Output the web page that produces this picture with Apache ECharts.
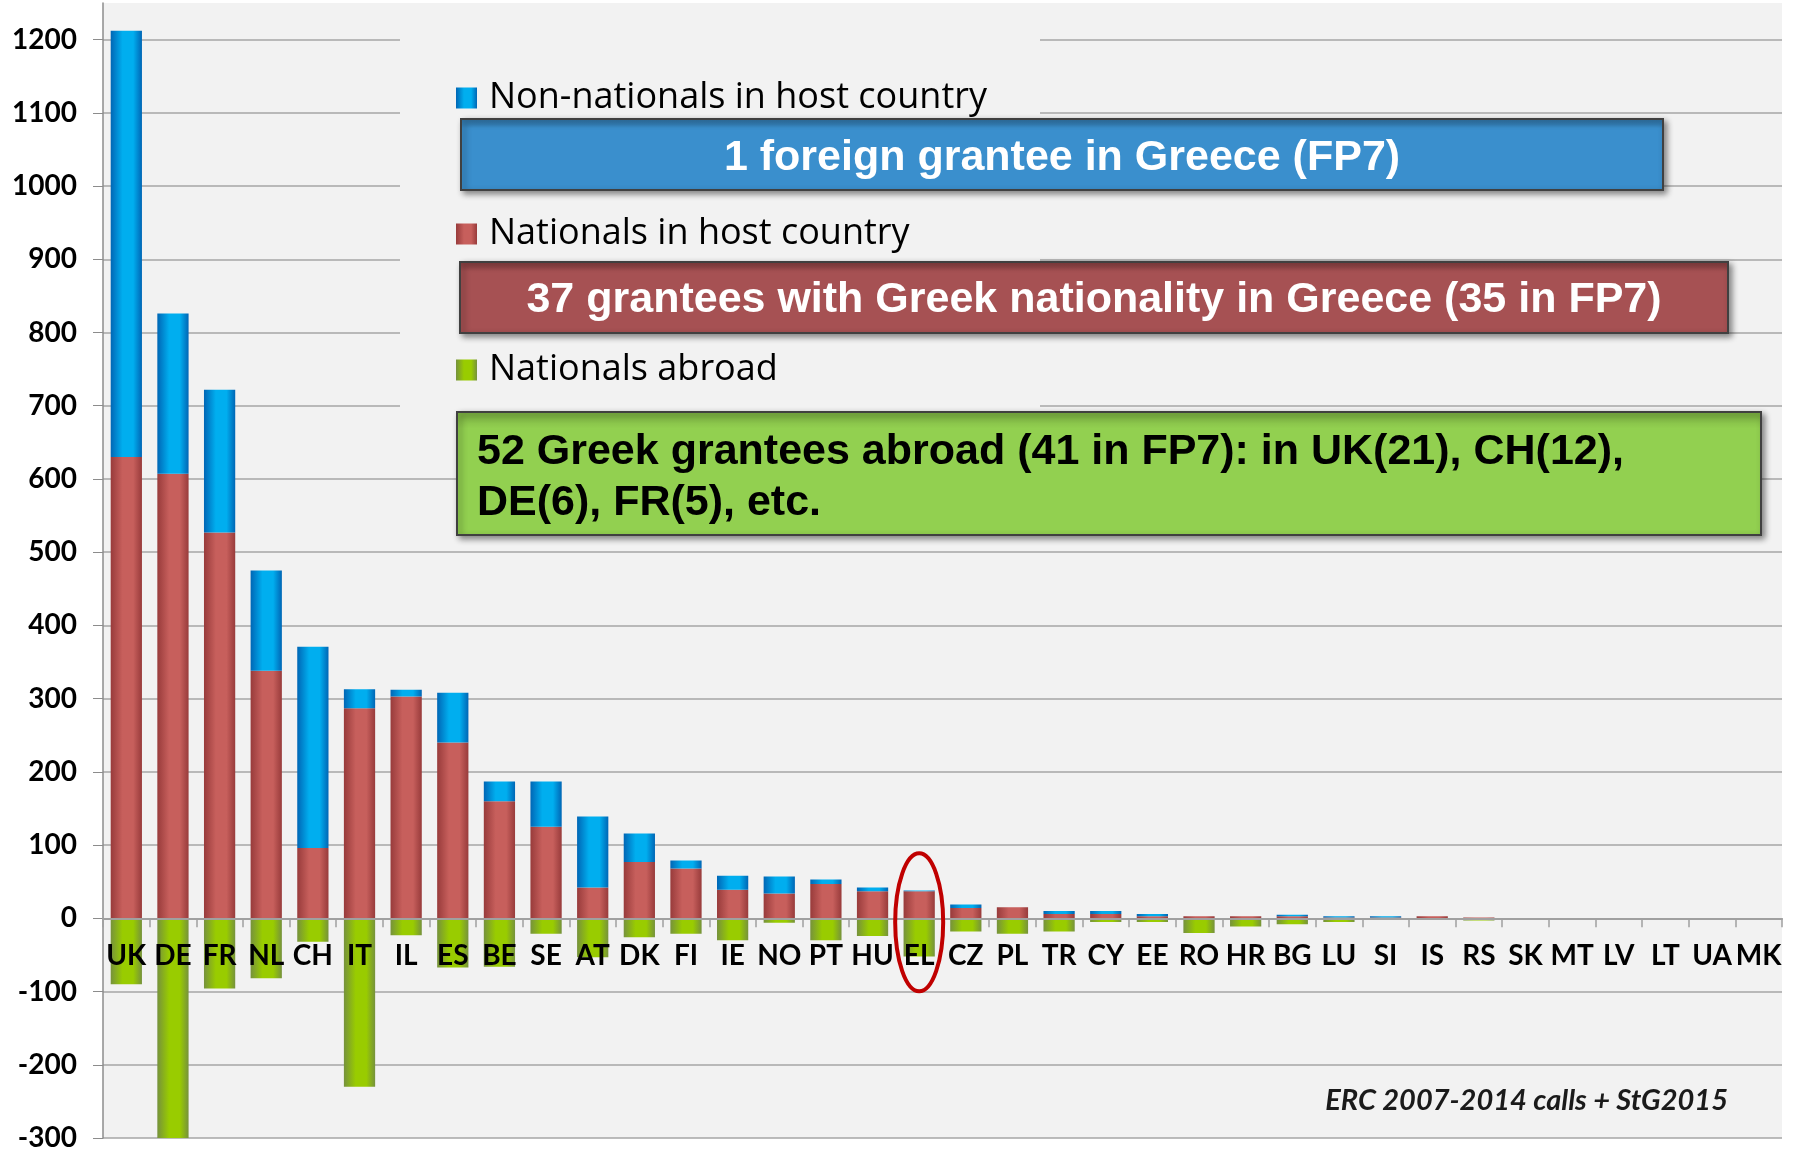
<!DOCTYPE html>
<html>
<head>
<meta charset="utf-8">
<script src="https://cdn.jsdelivr.net/npm/echarts@6/dist/echarts.min.js"></script>
<style>
html,body{margin:0;padding:0;background:#ffffff;}
#chart{width:1797px;height:1149px;}
</style>
</head>
<body>
<div id="chart"></div>
<script>
const categories = ['UK','DE','FR','NL','CH','IT','IL','ES','BE','SE','AT','DK','FI','IE','NO','PT','HU','EL','CZ','PL','TR','CY','EE','RO','HR','BG','LU','SI','IS','RS','SK','MT','LV','LT','UA','MK'];
const nationalsHost = [630,607,527,338,96,287,303,240,160,125,42,77,68,39,34,47,37,37,14,15,6,6,3,3,3,3,1,1,3,1,0,0,0,0,0,0];
const nonNationals = [582,219,195,137,275,26,9,68,27,62,97,39,11,19,23,6,5,1,5,0,4,4,3,0,0,2,2,2,0,0,0,0,0,0,0,0];
const nationalsAbroad = [-90,-300,-96,-82,-32,-230,-23,-67,-66,-21,-53,-26,-21,-30,-6,-30,-24,-52,-18,-21,-18,-5,-5,-20,-11,-8,-5,-2,-2,-3,-2,-2,0,-2,-2,-2];
const yTicks = {min:-300, max:1250, interval:100};
const legendNames = ['Non-nationals in host country','Nationals in host country','Nationals abroad'];
const boxTexts = [
  '1 foreign grantee in Greece (FP7)',
  '37 grantees with Greek nationality in Greece (35 in FP7)',
  '52 Greek grantees abroad (41 in FP7): in UK(21), CH(12),\nDE(6), FR(5), etc.'
];
const footnote = 'ERC 2007-2014 calls + StG2015';

function grad(dark, light){
  return {type:'linear',x:0,y:0,x2:1,y2:0,colorStops:[
    {offset:0,color:dark},{offset:0.38,color:light},{offset:0.72,color:light},{offset:1,color:dark}]};
}
function vgrad(top, base){
  return {type:'linear',x:0,y:0,x2:0,y2:1,colorStops:[
    {offset:0,color:top},{offset:0.14,color:base},{offset:1,color:base}]};
}
const gridColors = [];
for (let i=0;i<16;i++) gridColors.push('#A6A6A6');
gridColors.push('rgba(0,0,0,0)');

const chart = echarts.init(document.getElementById('chart'), null, {renderer:'canvas'});
const labelFont = {fontFamily:'Lato', fontWeight:'bold', fontSize:28, color:'#000'};

const option = {
  animation:false,
  backgroundColor:'#ffffff',
  grid:{left:103,right:15,top:3,bottom:11,show:true,backgroundColor:'#F2F2F2',borderWidth:0,
        outerBoundsMode:'none', containLabel:false},
  legend:{
    data:legendNames, orient:'vertical', left:456, top:80, padding:0, icon:'rect',
    itemWidth:21, itemHeight:21, itemGap:100, selectedMode:false,
    textStyle:{fontFamily:'Open Sans', fontSize:36, color:'#000', lineHeight:36, padding:[0,0,0,7]},
    z:6
  },
  xAxis:{
    type:'category', data:categories, z:10, position:'bottom', offset:0,
    axisLine:{onZero:false, lineStyle:{color:'#A0A0A0', width:2}},
    axisTick:{show:true, length:9, lineStyle:{color:'#A0A0A0', width:1.5}},
    axisLabel:Object.assign({margin:24, interval:0}, labelFont),
    splitLine:{show:false}
  },
  yAxis:{
    type:'value', min:yTicks.min, max:yTicks.max, interval:yTicks.interval,
    axisLine:{show:true, lineStyle:{color:'#8C8C8C', width:1.5}},
    axisTick:{show:true, length:10, lineStyle:{color:'#8C8C8C'}},
    axisLabel:Object.assign({margin:26, showMaxLabel:false, formatter:function(v){return v > 1200 ? '' : String(v);}}, labelFont),
    splitLine:{show:true, lineStyle:{color:gridColors, width:1.5}}
  },
  series:[
    {name:legendNames[1], type:'bar', stack:'s', data:nationalsHost, barCategoryGap:'33%',
     itemStyle:{color:grad('#983B3B','#C75F5C')}},
    {name:legendNames[0], type:'bar', stack:'s', data:nonNationals,
     itemStyle:{color:grad('#0066B5','#00AEEF')}},
    {name:legendNames[2], type:'bar', stack:'s', data:nationalsAbroad,
     itemStyle:{color:grad('#76923C','#99CC00')}}
  ]
};
chart.setOption(option);

// move the category axis (line, ticks, labels) up to the zero line
const zeroPt = chart.convertToPixel({gridIndex:0}, ['EL', 0]);
const minPt = chart.convertToPixel({gridIndex:0}, ['EL', yTicks.min]);
chart.setOption({xAxis:{offset: -(minPt[1] - zeroPt[1])}});

const el = chart.convertToPixel({gridIndex:0}, ['EL', 0]);
function box(x, y, w, h, fill){
  return {type:'rect', z:20, shape:{x:x,y:y,width:w,height:h},
    style:{fill:fill, stroke:'#404040', lineWidth:2, shadowBlur:6, shadowOffsetX:3, shadowOffsetY:3, shadowColor:'rgba(0,0,0,0.45)'}};
}
function txt(x, y, s, color, align){
  return {type:'text', z:21, style:{x:x, y:y, text:s, fill:color,
    font:'bold 43px "Liberation Sans", Arial, sans-serif', lineHeight:51,
    textAlign:align, align:align, textVerticalAlign:'middle', verticalAlign:'middle'}};
}
chart.setOption({
  graphic:[
    {type:'rect', z:1, shape:{x:400,y:12,width:640,height:396}, style:{fill:'#F2F2F2'}},
    box(461,119,1202,71, vgrad('#2E6E9E','#3A8FCD')),
    txt(1062,158, boxTexts[0], '#ffffff','center'),
    box(460,262,1268,71, vgrad('#7E3A3C','#A65153')),
    txt(1094,300, boxTexts[1], '#ffffff','center'),
    box(457,412,1304,123, vgrad('#79AD40','#92D050')),
    txt(477,478, boxTexts[2], '#000000','left'),
    {type:'ellipse', z:22, shape:{cx:el[0], cy:el[1]+4, rx:24, ry:69},
      style:{fill:'none', stroke:'#C00000', lineWidth:4}},
    {type:'text', z:22, style:{x:1728, y:1101, text:footnote, fill:'#1a1a1a',
      font:'italic bold 29px Lato, sans-serif', textAlign:'right', align:'right',
      textVerticalAlign:'middle', verticalAlign:'middle'}}
  ]
});
</script>
</body>
</html>
